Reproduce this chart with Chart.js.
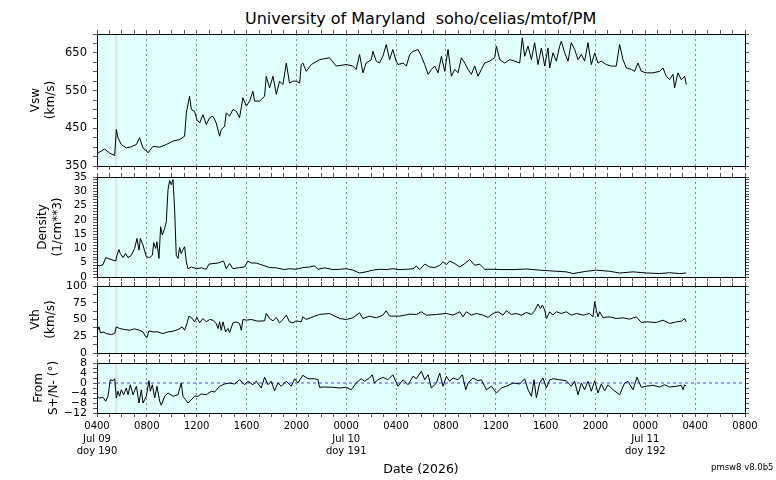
<!DOCTYPE html>
<html>
<head>
<meta charset="utf-8">
<script src="https://cdn.jsdelivr.net/npm/chart.js@4.4.1/dist/chart.umd.min.js"></script>
<style>
  body { margin: 0; background: #fff; font-family: 'DejaVu Sans', sans-serif; }
  #wrap { position: relative; width: 776px; height: 480px; overflow: hidden; }
  canvas { position: absolute; left: 0; }
  #title { position: absolute; left: 245px; top: 11px; font-size: 16px; line-height: 16px; white-space: pre; }
  #ver { position: absolute; left: 711px; top: 463px; font-size: 8.5px; line-height: 8.5px; white-space: pre; }
</style>
</head>
<body>
<div id="wrap">
  <div id="title">University of Maryland  soho/celias/mtof/PM</div>
  <canvas id="vsw" width="776" height="144" style="top:28px"></canvas>
  <canvas id="dens" width="776" height="112" style="top:171px"></canvas>
  <canvas id="vth" width="776" height="79" style="top:280px"></canvas>
  <canvas id="flow" width="776" height="123" style="top:357px"></canvas>
  <div id="ver">pmsw8 v8.0b5</div>
</div>
<script>
// hours since 0400 Jul 09 2026
const tickHours = [0, 4, 8, 12, 16, 20, 24, 28, 32, 36, 40, 44, 48, 52];
const tickTimes = ['0400', '0800', '1200', '1600', '2000', '0000', '0400', '0800', '1200', '1600', '2000', '0000', '0400', '0800'];
const dayHours = [0, 20, 44];
const dayNames = ['Jul 09', 'Jul 10', 'Jul 11'];
const dayDoy = ['doy 190', 'doy 191', 'doy 192'];

// data gap (grey band)
const gapStart = 1.44, gapEnd = 1.64;

const vswHours = [0.0, 0.61, 1.02, 1.42, 1.55, 1.68, 1.95, 2.35, 2.75, 3.16, 3.42, 3.69, 4.01, 4.09, 4.49, 5.03, 5.56, 6.10, 6.63, 7.03,
  7.17, 7.43, 7.57, 7.83, 8.02, 8.24, 8.50, 8.77, 9.04, 9.30, 9.57, 9.84, 9.97, 10.24, 10.37, 10.64, 10.91, 11.18, 11.44, 11.71,
  11.98, 12.25, 12.51, 12.65, 13.05, 13.45, 13.58, 13.85, 14.12, 14.39, 14.65, 14.92, 15.19, 15.45, 15.72, 15.99, 16.26, 16.39, 16.52, 16.79,
  17.19, 17.86, 18.66, 19.20, 20.00, 20.53, 20.80, 21.07, 21.34, 21.60, 22.01, 22.14, 22.41, 22.67, 22.94, 23.21, 23.48, 23.74,
  24.0, 24.16, 24.56, 24.83, 25.10, 25.36, 25.76, 26.03, 26.30, 26.57, 26.83, 27.10, 27.37, 27.64, 27.90, 28.17, 28.44, 28.71, 28.97, 29.24,
  29.51, 29.78, 30.04, 30.31, 30.58, 30.84, 31.11, 31.51, 31.91, 32.05, 32.32, 32.72, 33.12, 33.52, 33.92, 34.13, 34.32, 34.59, 34.86, 35.12,
  35.39, 35.66, 35.93, 36.19, 36.33, 36.59, 36.86, 37.13, 37.26, 37.53, 37.80, 38.06, 38.33, 38.60, 38.87, 39.13, 39.40, 39.67, 39.94, 40.20,
  40.47, 40.87, 41.27, 41.67, 41.94, 42.21, 42.48, 42.88, 43.14, 43.41, 43.68, 44.08, 44.61, 45.15, 45.42, 45.68, 45.95, 46.22, 46.35, 46.62,
  46.89, 47.16, 47.29];
const vswValues = [383, 395, 384, 378, 447, 425, 407, 398, 401, 407, 425, 398, 389, 385, 402, 400, 407, 416, 420, 429,
  491, 535, 500, 495, 473, 464, 486, 460, 478, 482, 464, 429, 447, 455, 491, 482, 500, 495, 478, 531,
  509, 522, 548, 522, 522, 535, 588, 557, 588, 540, 575, 566, 623, 570, 575, 575, 570, 619, 623, 601,
  619, 632, 637, 615, 619, 615, 606, 646, 597, 623, 632, 654, 628, 623, 641, 672, 632, 659,
  628, 619, 623, 615, 646, 654, 659, 641, 619, 593, 606, 615, 597, 641, 601, 659, 588, 606, 597, 637,
  623, 606, 593, 615, 588, 606, 623, 628, 637, 668, 632, 623, 632, 628, 623, 690, 641, 668, 632, 677,
  619, 663, 615, 663, 610, 650, 628, 668, 681, 650, 628, 677, 659, 632, 646, 628, 677, 619, 650, 623,
  628, 619, 615, 615, 672, 632, 610, 606, 601, 623, 601, 597, 597, 601, 610, 588, 579, 593, 557, 597,
  579, 588, 566];

const densHours = [0.0, 0.21, 0.48, 0.70, 0.88, 1.28, 1.50, 1.60, 1.76, 1.87, 2.09, 2.30, 2.49, 2.75, 3.02, 3.21, 3.37, 3.48, 3.69, 3.96,
  4.22, 4.44, 4.55, 4.71, 4.81, 4.97, 5.11, 5.24, 5.43, 5.56, 5.70, 5.83, 5.96, 6.10, 6.23, 6.36, 6.50, 6.63, 6.76, 6.90,
  7.03, 7.17, 7.30, 7.57, 7.97, 8.37, 8.77, 8.98, 9.30, 9.71, 10.16, 10.37, 10.64, 10.91, 11.44, 11.84, 12.11, 12.38, 12.78, 13.32,
  13.85, 14.39, 15.05, 15.45, 15.99, 16.52, 17.06, 17.46, 17.73, 18.26, 18.93, 19.47, 20.00, 20.53, 21.07, 21.60, 22.14, 22.67, 23.21, 23.74,
  24.16, 24.83, 25.36, 25.63, 25.90, 26.30, 26.70, 27.10, 27.50, 27.77, 28.04, 28.30, 28.71, 29.11, 29.51, 29.91, 30.31, 30.71, 31.11, 31.78,
  32.58, 33.39, 34.45, 35.52, 36.59, 37.66, 38.20, 39.27, 40.07, 41.14, 41.94, 43.01, 44.08, 45.15, 45.95, 46.75, 47.29];
const densValues = [4.1, 3.9, 4.3, 6.8, 6.5, 5.9, 5.6, 7.6, 9.6, 8.2, 6.8, 8.2, 6.8, 7.6, 10.0, 13.5, 9.4, 13.5, 11.2, 7.1,
  6.8, 7.6, 12.0, 10.0, 12.3, 6.5, 17.6, 14.7, 17.0, 19.4, 30.6, 33.8, 32.3, 34.1, 23.5, 7.6, 6.5, 10.3, 8.2, 9.6,
  10.6, 5.3, 2.9, 3.5, 2.9, 3.2, 2.7, 4.5, 4.7, 4.9, 5.6, 2.9, 4.7, 2.9, 3.3, 3.5, 5.6, 4.9, 4.9, 4.1,
  3.3, 3.2, 2.6, 2.9, 2.7, 3.3, 3.5, 3.9, 2.7, 3.2, 2.6, 2.7, 2.9, 2.4, 1.4, 1.8, 2.4, 2.7, 2.6, 2.9,
  2.6, 2.7, 2.9, 3.8, 2.6, 4.5, 3.5, 3.3, 4.1, 5.3, 4.3, 5.6, 4.7, 3.5, 4.7, 6.1, 4.1, 4.5, 2.7, 2.7,
  2.6, 2.6, 2.8, 2.4, 2.1, 1.8, 1.2, 2.0, 2.4, 2.0, 1.4, 1.8, 1.4, 1.2, 1.5, 1.2, 1.4];

const vthHours = [0, 0.16, 0.27, 0.48, 0.75, 1.15, 1.42, 1.55, 1.82, 2.22, 2.62, 3.02, 3.42, 3.69, 3.88, 4.01, 4.17, 4.49, 4.89, 5.29,
  5.70, 6.10, 6.50, 6.84, 7.03, 7.22, 7.38, 7.57, 7.83, 8.02, 8.24, 8.50, 8.77, 9.04, 9.30, 9.57, 9.71, 9.84, 9.97, 10.11,
  10.32, 10.51, 10.64, 10.91, 11.18, 11.44, 11.58, 11.71, 11.98, 12.38, 12.91, 13.45, 13.58, 13.85, 14.12, 14.39, 14.65, 14.92, 15.19, 15.45,
  15.72, 15.99, 16.39, 16.52, 16.79, 17.19, 17.86, 18.66, 19.47, 20.00, 20.53, 21.07, 21.34, 21.87, 22.41, 22.94, 23.21, 23.48, 23.63, 24.29,
  25.10, 25.63, 26.03, 26.43, 27.24, 28.04, 28.57, 29.11, 29.37, 29.64, 30.04, 30.44, 30.98, 31.38, 31.78, 32.18, 32.58, 32.85, 33.25, 33.65,
  34.05, 34.45, 34.86, 35.12, 35.39, 35.58, 35.74, 35.93, 36.06, 36.33, 36.59, 36.86, 37.26, 37.66, 38.06, 38.47, 39.00, 39.53, 39.80, 39.94,
  40.07, 40.20, 40.34, 40.60, 41.14, 41.67, 42.21, 42.74, 43.28, 43.68, 44.08, 44.88, 45.42, 45.95, 46.49, 46.89, 47.16, 47.29];
const vthValues = [31.5, 39, 30, 31.5, 29, 27.5, 29, 39, 36.5, 35, 34, 36, 34, 31.5, 25, 23, 33, 31.5, 31.5, 29,
  31.5, 32.5, 35, 39, 34, 44, 55, 53, 46.5, 53, 45, 51.5, 46.5, 50, 49, 44, 36.5, 46.5, 34, 46.5,
  31.5, 36.5, 30.5, 45, 46.5, 44, 34, 50, 49, 50, 47.5, 48, 59, 51.5, 48, 53, 45, 50, 56.5, 46.5,
  45, 48, 46.5, 54, 50, 53, 57.5, 59, 51.5, 50, 52.5, 60, 51.5, 55, 52.5, 56.5, 63, 55, 55, 55,
  58, 57.5, 61.5, 56.5, 57.5, 59, 56.5, 61.5, 54, 61.5, 56.5, 59, 56.5, 53, 59, 61.5, 56.5, 63, 57.5, 59,
  56.5, 60.5, 57.5, 63, 73, 66.5, 71.5, 64, 51.5, 61.5, 56.5, 61.5, 59, 61.5, 56.5, 59, 56.5, 59, 54, 76.5,
  64, 54, 61.5, 53, 54, 51.5, 52.5, 50.5, 54, 45.5, 46.5, 45.5, 49, 44, 46.5, 47.5, 51.5, 46.5];

const flowHours = [0.00, 0.21, 0.48, 0.70, 0.88, 1.07, 1.28, 1.42, 1.55, 1.68, 1.82, 1.95, 2.14, 2.35, 2.49, 2.67, 2.89, 3.16, 3.37, 3.56,
  3.69, 3.96, 4.17, 4.28, 4.44, 4.63, 4.81, 5.03, 5.16, 5.43, 5.70, 6.10, 6.50, 6.76, 6.90, 7.11, 7.30, 7.57, 7.83, 8.10,
  8.37, 8.77, 9.17, 9.44, 9.84, 10.24, 10.64, 11.04, 11.44, 11.84, 12.11, 12.51, 12.78, 13.18, 13.45, 13.72, 13.98, 14.25, 14.52, 14.79,
  15.19, 15.59, 15.86, 16.12, 16.52, 16.93, 17.46, 17.73, 17.86, 18.26, 18.93, 19.47, 20.00, 20.40, 20.80, 21.20, 21.47, 21.87, 22.09, 22.27,
  22.54, 22.94, 23.34, 23.74,
  24.16, 24.56, 24.96, 25.36, 25.63, 26.03, 26.30, 26.57, 26.83, 27.24, 27.50, 27.77, 28.04, 28.30, 28.57, 28.97, 29.32, 29.59, 29.78, 30.18,
  30.58, 30.84, 31.25, 31.65, 32.05, 32.45, 32.85, 33.39, 33.92, 34.32, 34.59, 34.86, 35.07, 35.26, 35.52, 35.79, 36.06, 36.33, 36.59, 37.13,
  37.66, 38.06, 38.33, 38.60, 38.87, 39.13, 39.40, 39.67, 39.94, 40.20, 40.47, 40.74, 41.01, 41.41, 41.94, 42.34, 42.61, 43.01, 43.33, 43.68,
  44.08, 44.61, 45.15, 45.55, 45.95, 46.49, 46.89, 47.03, 47.16, 47.29];
const flowValues = [-5.3, -6, -5.7, -7.3, -5.3, 1.3, 0.9, 1.7, -6, -3.3, -5.3, -2.7, -4.7, -2, -4.7, -0.7, -4.7, -1.3, -8, -2.7,
  -8, -5.3, 0.9, -3.3, -0.7, -6, -1.3, -7.3, -8.9, -5.3, -4, -5.3, -4.7, 0, -5.3, -6.7, -8, -6.7, -5.3, -5.3,
  -4.4, -4.7, -3.3, -3.6, -1.3, -0.4, 0, -0.4, 1.3, -0.7, 0.7, -0.7, 0.7, -2, 2.3, -0.7, 0.7, -3.1, 0, -1.3,
  0.7, -1.3, 1.7, 0, 3.1, 1.7, 1.7, 1.3, -1.7, -1.6, -1.7, -2, -1.7, -2.7, 0, 1.7, 0.7, 2, 3.3, 0,
  1.3, 2.3, 1.3, 3.3,
  -1.3, 1.3, -0.7, 2.7, 1.7, 4.7, 1.3, 3.3, -2, 0, 4, -1.3, 2.7, 0.7, 2, 1.3, 3.3, -2.7, 0, 2,
  0.9, 1.3, -2.7, -1.3, -4, -2, -1.3, 0, -0.4, 1.7, -2.7, -5.3, 1.3, -6, 0, 2, -2, 1.3, 1.7, 1.3,
  0.9, -1.3, 0.7, -4.7, 0, -2.7, 0.7, -3.3, 0.9, -4, -0.4, -3.1, -0.7, -2.7, -4.7, 0, 0.7, -2.7, 2.3, -1.7,
  -1.3, -0.9, -1.6, -0.7, -1.6, -1.3, -0.9, -2.7, -0.7, -1.3];

Chart.defaults.font.family = 'DejaVu Sans';
Chart.defaults.color = '#000';

// cyan plot background + grey gap band
const panelBack = {
  id: 'panelBack',
  beforeDraw(chart) {
    const a = chart.chartArea, ctx = chart.ctx, x = chart.scales.x;
    ctx.save();
    ctx.fillStyle = '#e0ffff';
    ctx.fillRect(a.left, a.top, a.right - a.left, a.bottom - a.top);
    ctx.fillStyle = '#e4e4e4';
    let x1 = x.getPixelForValue(gapStart), x2 = x.getPixelForValue(gapEnd);
    ctx.fillRect(x1, a.top, x2 - x1, a.bottom - a.top);
    ctx.restore();
  }
};

function xLabel(value) {
  let i = tickHours.indexOf(value);
  if (i < 0) return '';
  let d = dayHours.indexOf(value);
  if (d < 0) return tickTimes[i];
  return [tickTimes[i], dayNames[d], dayDoy[d]];
}

// fixed axis sizes, no extra label overhang padding
function noPad(scale) {
  scale.paddingTop = 0; scale.paddingBottom = 0;
  scale.paddingLeft = 0; scale.paddingRight = 0;
}
function fixWidth(w) { return function (scale) { scale.width = w; noPad(scale); }; }
function fixHeight(h) { return function (scale) { scale.height = h; noPad(scale); }; }

function makePanel(id, hours, values, p) {
  const ctx = document.getElementById(id).getContext('2d');
  let points = [];
  for (let i = 0; i < hours.length && i < values.length; i++) {
    points.push({ x: hours[i], y: values[i] });
  }
  let sets = [{ data: points, borderColor: '#000', borderWidth: 1, pointRadius: 0 }];
  if (p.zero) {
    sets.push({ data: [{ x: 0, y: 0 }, { x: 52, y: 0 }], borderColor: '#4646ff', borderWidth: 1, borderDash: [3, 3], pointRadius: 0 });
  }
  const marks = { tickLength: 4, tickColor: '#555', tickWidth: 1, tickBorderDash: [] };
  const yLabel = function (v) {
    let k = (v - p.min) / p.every;
    if (Math.abs(k - Math.round(k)) > 1e-6) return '';
    return v < 0 ? '\u2212' + Math.abs(v) : String(v);
  };
  let xBottom = {
    type: 'linear', position: 'bottom', min: 0, max: 52,
    afterFit: fixHeight(p.bottom),
    ticks: { stepSize: 1, maxTicksLimit: 1000, autoSkip: false, maxRotation: 0, display: !!p.labels,
      callback: xLabel, font: { size: 10, lineHeight: 1.27 }, padding: 3 },
    grid: Object.assign({ color: c => (c.tick && c.tick.value % 4 === 0) ? '#8c8c8c' : 'rgba(0,0,0,0)' }, marks),
    border: { color: '#000', width: 1, dash: [2, 3] }
  };
  if (p.labels) {
    xBottom.title = { display: true, text: 'Date (2026)', font: { size: 12.5 }, padding: { top: 0, bottom: 2.5 } };
  }
  new Chart(ctx, {
    type: 'line',
    data: { datasets: sets },
    options: {
      responsive: false,
      animation: false,
      devicePixelRatio: 1,
      layout: { padding: 0 },
      plugins: { legend: { display: false }, tooltip: { enabled: false } },
      scales: {
        x: xBottom,
        xTop: {
          type: 'linear', position: 'top', min: 0, max: 52, afterFit: fixHeight(6),
          ticks: { stepSize: 1, maxTicksLimit: 1000, autoSkip: false, display: false },
          grid: Object.assign({ drawOnChartArea: false }, marks),
          border: { color: '#000' }
        },
        y: {
          type: 'linear', position: 'left', min: p.min, max: p.max, afterFit: fixWidth(97),
          ticks: { stepSize: p.step, maxTicksLimit: 1000, autoSkip: false, padding: 6,
            font: { size: p.tickSize }, callback: yLabel },
          grid: Object.assign({ drawOnChartArea: false }, marks),
          border: { color: '#000' },
          title: { display: true, text: p.title, font: { size: 12 }, padding: { top: p.titlePad, bottom: 0 } }
        },
        yR: {
          type: 'linear', position: 'right', min: p.min, max: p.max, afterFit: fixWidth(31),
          ticks: { stepSize: p.step, maxTicksLimit: 1000, autoSkip: false, display: false },
          grid: Object.assign({ drawOnChartArea: false }, marks),
          border: { color: '#000' }
        }
      }
    },
    plugins: [panelBack]
  });
}

makePanel('vsw', vswHours, vswValues, { min: 350, max: 700, step: 25, every: 100, tickSize: 11.5,
  title: ['Vsw', '(km/s)'], titlePad: 29, bottom: 6 });
makePanel('dens', densHours, densValues, { min: 0, max: 35, step: 1, every: 5, tickSize: 10.5,
  title: ['Density', '(1/cm**3)'], titlePad: 36, bottom: 6 });
makePanel('vth', vthHours, vthValues, { min: 0, max: 100, step: 12.5, every: 25, tickSize: 11,
  title: ['Vth', '(km/s)'], titlePad: 29, bottom: 6 });
makePanel('flow', flowHours, flowValues, { min: -12, max: 8, step: 2, every: 4, tickSize: 11,
  title: ['From', 'S+/N- (\u00b0)'], titlePad: 32, bottom: 67, labels: true, zero: true });
</script>
</body>
</html>
